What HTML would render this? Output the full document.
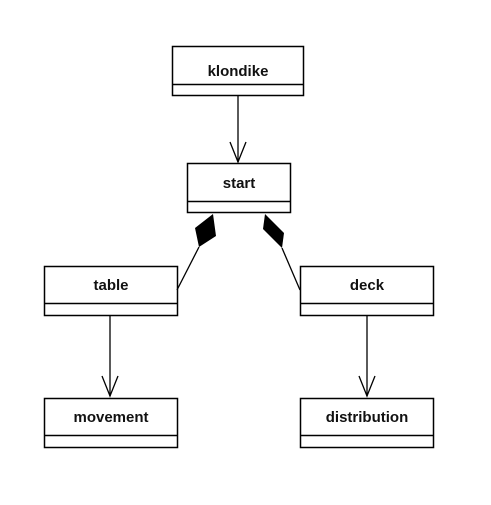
<!DOCTYPE html>
<html><head><style>body{margin:0;background:#fff}</style></head><body>
<svg width="491" height="500" xmlns="http://www.w3.org/2000/svg" font-family="Liberation Sans, sans-serif" font-size="15" font-weight="bold" text-anchor="middle">
<g fill="#fff" stroke="#000" stroke-width="1.5">
<rect x="172.5" y="46.5" width="131" height="49"/><line x1="172" y1="84.5" x2="304" y2="84.5"/>
<rect x="187.5" y="163.5" width="103" height="49"/><line x1="187" y1="201.5" x2="291" y2="201.5"/>
<rect x="44.5" y="266.5" width="133" height="49"/><line x1="44" y1="303.5" x2="178" y2="303.5"/>
<rect x="300.5" y="266.5" width="133" height="49"/><line x1="300" y1="303.5" x2="434" y2="303.5"/>
<rect x="44.5" y="398.5" width="133" height="49"/><line x1="44" y1="435.5" x2="178" y2="435.5"/>
<rect x="300.5" y="398.5" width="133" height="49"/><line x1="300" y1="435.5" x2="434" y2="435.5"/>
</g>
<g stroke="#000" stroke-width="1.3" fill="none">
<line x1="238" y1="96" x2="238" y2="162"/><polyline points="230,142 238,162 246,142"/>
<line x1="110" y1="316" x2="110" y2="396"/><polyline points="102,376 110,396 118,376"/>
<line x1="367" y1="316" x2="367" y2="396"/><polyline points="359,376 367,396 375,376"/>
<line x1="199" y1="247" x2="177" y2="290"/>
<line x1="282" y1="248" x2="300" y2="290"/>
</g>
<polygon points="213,214 195,228 199,247 216,236" fill="#000"/>
<polygon points="265,214 263,229 282,248 284,233" fill="#000"/>
<g fill="#111">
<text x="238" y="76">klondike</text>
<text x="239" y="188">start</text>
<text x="111" y="290">table</text>
<text x="367" y="290">deck</text>
<text x="111" y="422">movement</text>
<text x="367" y="422">distribution</text>
</g>
</svg>
</body></html>
